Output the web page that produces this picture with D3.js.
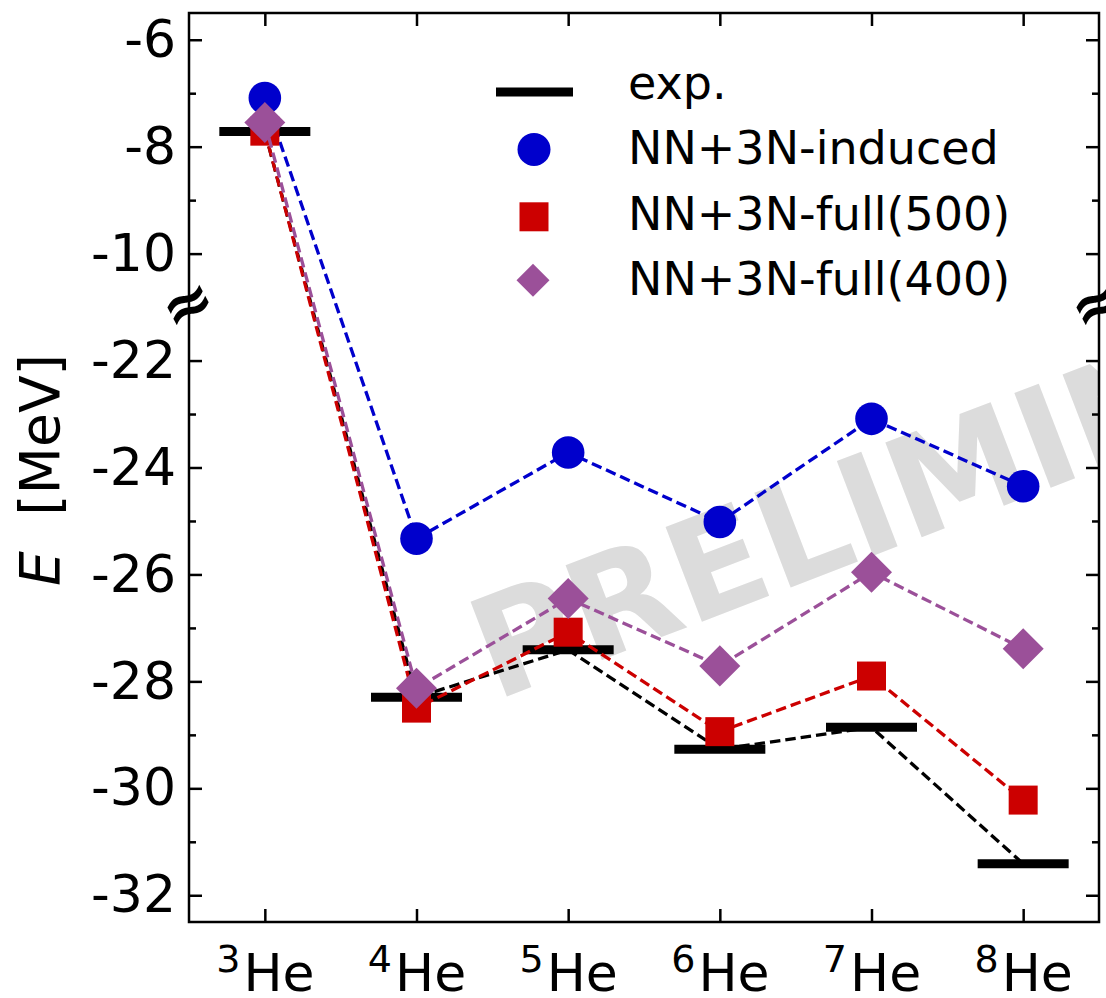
<!DOCTYPE html>
<html lang="en">
<head>
<meta charset="UTF-8">
<title>He isotopes - ground state energies</title>
<script src="https://d3js.org/d3.v7.min.js"></script>
<style>
  body { margin: 0; background: #fff; }
  svg text { font-family: "DejaVu Sans", sans-serif; }
</style>
</head>
<body>
<svg id="chart"></svg>
<script>
// mass numbers of the He isotopes on the x axis
const massNumbers = [3, 4, 5, 6, 7, 8];

// energies in MeV
const expEnergy      = [-7.718, -28.296, -27.41, -29.27, -28.86, -31.41];
const inducedEnergy  = [-7.09, -25.33, -23.72, -25.02, -23.09, -24.35];
const full500Energy  = [-7.71, -28.50, -27.08, -28.94, -27.90, -30.22];
const full400Energy  = [-7.55, -28.13, -26.45, -27.71, -25.96, -27.39];

const majorTicks = [-6, -8, -10, -22, -24, -26, -28, -30, -32];
const minorTicks = [-7, -9, -23, -25, -27, -29, -31];
const legendLabels = ['exp.', 'NN+3N-induced', 'NN+3N-full(500)', 'NN+3N-full(400)'];

const W = 1106, H = 998;
const plotL = 189, plotR = 1099, plotT = 13, plotB = 922;

const svg = d3.select('#chart').attr('width', W).attr('height', H);

// y axis is broken between -11 and -21 MeV
const pxPerMeV = (plotB - plotT) / 17;
const breakY = plotT + 5.5 * pxPerMeV;
const x = d3.scaleLinear().domain([-0.5, 5.5]).range([plotL, plotR]);
const y = d3.scaleLinear().domain([-32.5, -21, -11, -5.5]).range([plotB, breakY, breakY, plotT]);

// watermark, clipped to the plot area
svg.append('clipPath').attr('id', 'plotclip')
  .append('rect')
  .attr('x', plotL).attr('y', plotT)
  .attr('width', plotR - plotL).attr('height', plotB - plotT);

svg.append('g').attr('clip-path', 'url(#plotclip)')
  .append('text')
  .attr('transform', 'translate(495,701) rotate(-21)')
  .attr('font-size', 139)
  .attr('font-weight', 'bold')
  .attr('fill', '#dcdcdc')
  .text('PRELIMINARY');

// axes (ticks pointing inward)
function styleAxis(g) {
  g.select('.domain').remove();
  g.selectAll('line').attr('stroke', '#000').attr('stroke-width', 2.5);
  g.attr('font-family', '"DejaVu Sans", sans-serif');
}

svg.append('g')
  .attr('transform', `translate(${plotL},0)`)
  .call(d3.axisLeft(y).tickValues(majorTicks).tickSize(-13).tickPadding(13)
    .tickFormat(d => String(d)))
  .call(styleAxis)
  .attr('font-size', 52)
  .selectAll('text').attr('fill', '#000');

svg.append('g')
  .attr('transform', `translate(${plotL},0)`)
  .call(d3.axisLeft(y).tickValues(minorTicks).tickSize(-7).tickFormat(''))
  .call(styleAxis);

svg.append('g')
  .attr('transform', `translate(${plotR},0)`)
  .call(d3.axisRight(y).tickValues(majorTicks).tickSize(-13).tickFormat(''))
  .call(styleAxis);

svg.append('g')
  .attr('transform', `translate(${plotR},0)`)
  .call(d3.axisRight(y).tickValues(minorTicks).tickSize(-7).tickFormat(''))
  .call(styleAxis);

svg.append('g')
  .attr('transform', `translate(0,${plotT})`)
  .call(d3.axisTop(x).tickValues(d3.range(massNumbers.length)).tickSize(-13).tickFormat(''))
  .call(styleAxis);

const xAxis = svg.append('g')
  .attr('transform', `translate(0,${plotB})`)
  .call(d3.axisBottom(x).tickValues(d3.range(massNumbers.length)).tickSize(-13))
  .call(styleAxis);

xAxis.selectAll('.tick text').each(function(d) {
  const t = d3.select(this).text(null)
    .attr('y', 69).attr('dy', null)
    .attr('fill', '#000')
    .attr('text-anchor', 'middle');
  t.append('tspan').attr('font-size', 38).attr('dy', -19).text(massNumbers[d]);
  t.append('tspan').attr('font-size', 52).attr('dy', 19).attr('dx', 3).text('He');
});

// frame
svg.append('rect')
  .attr('x', plotL).attr('y', plotT)
  .attr('width', plotR - plotL).attr('height', plotB - plotT)
  .attr('fill', 'none').attr('stroke', '#000').attr('stroke-width', 2.5);

// break marks on both vertical axes
[plotL - 2, plotR - 3].forEach(px => {
  svg.append('text')
    .attr('transform', `translate(${px},${breakY - 4}) rotate(-28)`)
    .attr('text-anchor', 'middle')
    .attr('dominant-baseline', 'central')
    .attr('font-size', 62)
    .attr('font-weight', 'bold')
    .text('\u2248');
});

// y label
svg.append('text')
  .attr('transform', 'translate(59,586) rotate(-90)')
  .attr('font-size', 55)
  .attr('font-style', 'italic')
  .text('E');
svg.append('text')
  .attr('transform', 'translate(59,354) rotate(-90)')
  .attr('font-size', 55)
  .attr('text-anchor', 'end')
  .text('[MeV]');

// series
const dashed = d3.line().x((d, i) => x(i)).y(d => y(d));

function drawLine(values, color) {
  svg.append('path')
    .datum(values)
    .attr('d', dashed)
    .attr('fill', 'none')
    .attr('stroke', color)
    .attr('stroke-width', 3.3)
    .attr('stroke-dasharray', '10.5,5');
}

// exp.
drawLine(expEnergy, '#000');
svg.selectAll('.expbar')
  .data(expEnergy)
  .join('line')
  .attr('class', 'expbar')
  .attr('x1', (d, i) => x(i) - 45.5)
  .attr('x2', (d, i) => x(i) + 45.5)
  .attr('y1', d => y(d)).attr('y2', d => y(d))
  .attr('stroke', '#000').attr('stroke-width', 9);

// induced
drawLine(inducedEnergy, '#0000cc');
svg.selectAll('.induced')
  .data(inducedEnergy)
  .join('circle')
  .attr('class', 'induced')
  .attr('cx', (d, i) => x(i)).attr('cy', d => y(d))
  .attr('r', 16.3)
  .attr('fill', '#0000cc');

// full(500)
drawLine(full500Energy, '#cc0000');
svg.selectAll('.full500')
  .data(full500Energy)
  .join('path')
  .attr('class', 'full500')
  .attr('transform', (d, i) => `translate(${x(i)},${y(d)})`)
  .attr('d', d3.symbol(d3.symbolSquare, 29 * 29))
  .attr('fill', '#cc0000');

// full(400)
drawLine(full400Energy, '#9b5099');
svg.selectAll('.full400')
  .data(full400Energy)
  .join('path')
  .attr('class', 'full400')
  .attr('transform', (d, i) => `translate(${x(i)},${y(d)}) rotate(45)`)
  .attr('d', d3.symbol(d3.symbolSquare, 29 * 29))
  .attr('fill', '#9b5099');

// legend
const legend = svg.append('g');
const rowBase = i => 99 + 65.4 * i;
const hx = 534;

legend.append('line')
  .attr('x1', 496).attr('x2', 573)
  .attr('y1', rowBase(0) - 7).attr('y2', rowBase(0) - 7)
  .attr('stroke', '#000').attr('stroke-width', 9);
legend.append('circle')
  .attr('cx', hx).attr('cy', rowBase(1) - 15).attr('r', 16.5)
  .attr('fill', '#0000cc');
legend.append('path')
  .attr('transform', `translate(${hx},${rowBase(2) - 13})`)
  .attr('d', d3.symbol(d3.symbolSquare, 29 * 29))
  .attr('fill', '#cc0000');
legend.append('path')
  .attr('transform', `translate(${hx - 1},${rowBase(3) - 15}) rotate(45)`)
  .attr('d', d3.symbol(d3.symbolSquare, 23.3 * 23.3))
  .attr('fill', '#9b5099');

legend.selectAll('.legtext')
  .data(legendLabels)
  .join('text')
  .attr('class', 'legtext')
  .attr('x', 628)
  .attr('y', (d, i) => rowBase(i))
  .attr('font-size', 46)
  .text(d => d);
</script>
</body>
</html>
